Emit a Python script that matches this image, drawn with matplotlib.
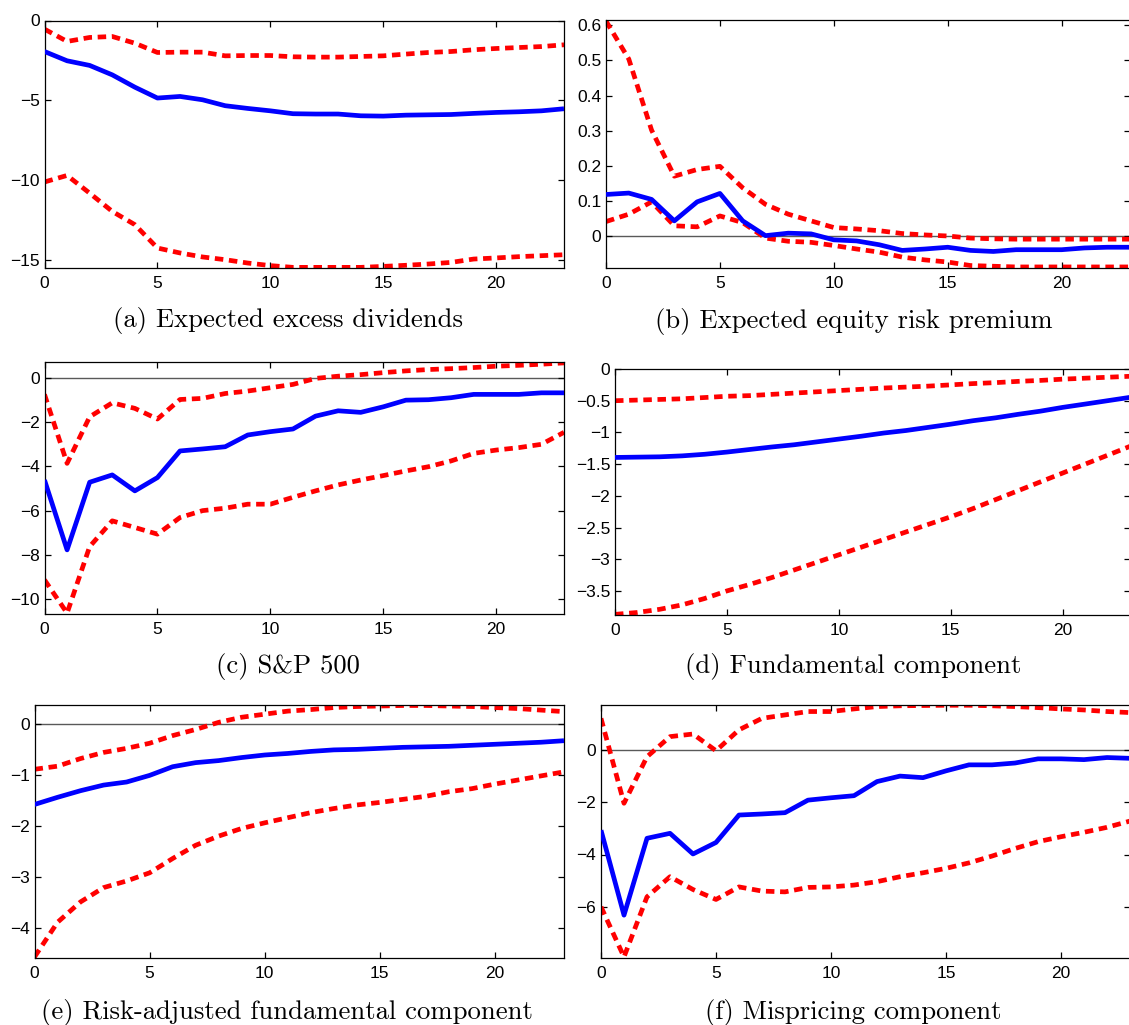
import matplotlib
matplotlib.use('Agg')
import matplotlib.pyplot as plt
import numpy as np

plt.rcParams['font.family'] = ['Liberation Sans', 'DejaVu Sans']

horizon = list(range(24))

# (a) Expected excess dividends
a_mid = [-1.94, -2.52, -2.81, -3.40, -4.17, -4.85, -4.75, -4.96, -5.33, -5.50, -5.65, -5.83,
         -5.85, -5.85, -5.96, -5.98, -5.92, -5.90, -5.88, -5.81, -5.75, -5.71, -5.65, -5.52]
a_hi = [-0.54, -1.31, -1.06, -1.00, -1.42, -2.00, -1.98, -1.98, -2.21, -2.19, -2.19, -2.27,
        -2.29, -2.29, -2.25, -2.21, -2.10, -2.00, -1.94, -1.83, -1.75, -1.69, -1.63, -1.52]
a_lo = [-10.10, -9.69, -10.80, -11.94, -12.77, -14.23, -14.54, -14.79, -14.96, -15.17, -15.33, -15.44,
        -15.44, -15.44, -15.44, -15.38, -15.31, -15.23, -15.13, -14.92, -14.85, -14.77, -14.71, -14.65]

# (b) Expected equity risk premium
b_mid = [0.119, 0.123, 0.105, 0.044, 0.098, 0.122, 0.044, 0.002, 0.009, 0.007, -0.010, -0.013,
         -0.024, -0.040, -0.036, -0.031, -0.040, -0.043, -0.038, -0.038, -0.038, -0.033, -0.031, -0.031]
b_hi = [0.612, 0.504, 0.302, 0.171, 0.190, 0.199, 0.138, 0.091, 0.063, 0.044, 0.025, 0.021,
        0.016, 0.008, 0.004, 0.001, -0.005, -0.007, -0.008, -0.008, -0.008, -0.008, -0.008, -0.008]
b_lo = [0.042, 0.063, 0.098, 0.030, 0.027, 0.058, 0.039, -0.005, -0.014, -0.017, -0.026, -0.036,
        -0.045, -0.059, -0.067, -0.073, -0.083, -0.085, -0.087, -0.087, -0.087, -0.087, -0.087, -0.087]

# (c) S&P 500
c_mid = [-4.62, -7.77, -4.72, -4.39, -5.11, -4.51, -3.31, -3.22, -3.12, -2.59, -2.44, -2.32,
         -1.74, -1.50, -1.57, -1.32, -1.02, -1.00, -0.91, -0.76, -0.76, -0.76, -0.69, -0.69]
c_hi = [-0.76, -3.87, -1.77, -1.14, -1.39, -1.87, -0.99, -0.94, -0.72, -0.61, -0.46, -0.31,
        -0.04, 0.06, 0.13, 0.22, 0.30, 0.36, 0.40, 0.45, 0.51, 0.55, 0.60, 0.66]
c_lo = [-9.12, -10.62, -7.62, -6.46, -6.76, -7.06, -6.31, -6.00, -5.89, -5.71, -5.71, -5.40,
        -5.11, -4.84, -4.62, -4.42, -4.21, -4.02, -3.76, -3.42, -3.27, -3.16, -3.01, -2.47]

# (d) Fundamental component
d_mid = [-1.395, -1.39, -1.385, -1.37, -1.345, -1.31, -1.27, -1.23, -1.195, -1.15, -1.105, -1.06,
         -1.01, -0.97, -0.92, -0.87, -0.815, -0.77, -0.715, -0.665, -0.605, -0.553, -0.50, -0.447]
d_hi = [-0.50, -0.49, -0.48, -0.47, -0.45, -0.43, -0.42, -0.40, -0.38, -0.36, -0.34, -0.32,
        -0.30, -0.285, -0.27, -0.25, -0.23, -0.215, -0.195, -0.18, -0.16, -0.145, -0.13, -0.115]
d_lo = [-3.87, -3.84, -3.79, -3.72, -3.62, -3.50, -3.40, -3.29, -3.17, -3.05, -2.93, -2.81,
        -2.69, -2.57, -2.45, -2.33, -2.20, -2.06, -1.92, -1.78, -1.64, -1.50, -1.36, -1.22]

# (e) Risk-adjusted fundamental component
e_mid = [-1.57, -1.43, -1.30, -1.19, -1.13, -1.00, -0.83, -0.75, -0.71, -0.65, -0.60, -0.57,
         -0.53, -0.50, -0.49, -0.47, -0.45, -0.44, -0.43, -0.41, -0.39, -0.37, -0.35, -0.32]
e_hi = [-0.88, -0.82, -0.67, -0.55, -0.47, -0.37, -0.22, -0.10, 0.04, 0.14, 0.20, 0.26,
        0.29, 0.33, 0.35, 0.36, 0.37, 0.37, 0.36, 0.35, 0.33, 0.31, 0.28, 0.25]
e_lo = [-4.56, -3.88, -3.48, -3.20, -3.07, -2.91, -2.63, -2.37, -2.19, -2.04, -1.93, -1.83,
        -1.73, -1.65, -1.58, -1.53, -1.47, -1.41, -1.32, -1.26, -1.17, -1.09, -1.01, -0.93]

# (f) Mispricing component
f_mid = [-3.07, -6.32, -3.38, -3.19, -3.98, -3.54, -2.49, -2.45, -2.40, -1.92, -1.83, -1.75,
         -1.21, -1.00, -1.06, -0.80, -0.57, -0.57, -0.50, -0.34, -0.34, -0.37, -0.29, -0.32]
f_hi = [1.21, -2.04, -0.26, 0.51, 0.61, -0.03, 0.77, 1.21, 1.34, 1.47, 1.47, 1.57,
        1.66, 1.69, 1.70, 1.71, 1.71, 1.69, 1.66, 1.62, 1.57, 1.53, 1.47, 1.43]
f_lo = [-6.00, -7.92, -5.62, -4.85, -5.34, -5.72, -5.24, -5.40, -5.43, -5.26, -5.24, -5.17,
        -5.04, -4.85, -4.70, -4.53, -4.32, -4.06, -3.77, -3.51, -3.32, -3.15, -2.96, -2.72]

captions = ['(a) Expected excess dividends', '(b) Expected equity risk premium',
            '(c) S&P 500', '(d) Fundamental component',
            '(e) Risk-adjusted fundamental component', '(f) Mispricing component']

panels = [(a_mid, a_lo, a_hi), (b_mid, b_lo, b_hi), (c_mid, c_lo, c_hi),
          (d_mid, d_lo, d_hi), (e_mid, e_lo, e_hi), (f_mid, f_lo, f_hi)]
ylims = [(-15.48, 0), (-0.09, 0.615), (-10.66, 0.7), (-3.88, 0), (-4.58, 0.38), (-7.96, 1.72)]
yticks = [[-15, -10, -5, 0], np.arange(0, 0.61, 0.1), [-10, -8, -6, -4, -2, 0],
          np.arange(-3.5, 0.01, 0.5), [-4, -3, -2, -1, 0], [-6, -4, -2, 0]]
zero_line = [False, True, True, False, True, True]

# pixel boxes (left, top, right, bottom)
W, H = 1129, 1025
boxes = [(44.5, 20.5, 564, 268), (606, 20, 1130, 268),
         (44.5, 362, 564, 614), (615, 369, 1130, 615),
         (34.5, 705, 564, 958), (601, 705, 1130, 958)]
cap_pos = [(288, 320), (854, 321), (288, 667), (853, 667), (287, 1012), (853, 1012)]

fig = plt.figure(figsize=(W / 100, H / 100), dpi=100)
for i in range(6):
    l, t, r, b = boxes[i]
    ax = fig.add_axes([l / W, 1 - b / H, (r - l) / W, (b - t) / H])
    mid, lo, hi = panels[i]
    if zero_line[i]:
        ax.axhline(0, color='0.35', lw=1.0, zorder=1)
    ax.plot(horizon, mid, color='#0000ff', lw=3.4, solid_capstyle='butt', zorder=3)
    for band in (hi, lo):
        ax.plot(horizon, band, color='#ff0000', lw=3.4, linestyle=(0, (1.8, 1.2)),
                dash_capstyle='butt', zorder=2)
    ax.set_xlim(0, 23)
    ax.set_ylim(*ylims[i])
    ax.set_xticks([0, 5, 10, 15, 20])
    ax.set_yticks(yticks[i])
    if i == 3:
        ax.set_yticklabels(['\u22123.5', '\u22123', '\u22122.5', '\u22122', '\u22121.5', '\u22121', '\u22120.5', '0'])
    if i == 1:
        ax.set_yticklabels(['0', '0.1', '0.2', '0.3', '0.4', '0.5', '0.6'])
    ax.tick_params(direction='in', top=True, right=True, length=4, width=0.9, labelsize=12.5)
    ax.tick_params(axis='x', pad=6)
    ax.tick_params(axis='y', pad=3.5)
    for s in ax.spines.values():
        s.set_linewidth(0.9)
    fig.text(cap_pos[i][0] / W, 1 - cap_pos[i][1] / H, captions[i], family='cmr10',
             fontsize=19.2, ha='center', va='center')

fig.savefig('out.png', dpi=100)
